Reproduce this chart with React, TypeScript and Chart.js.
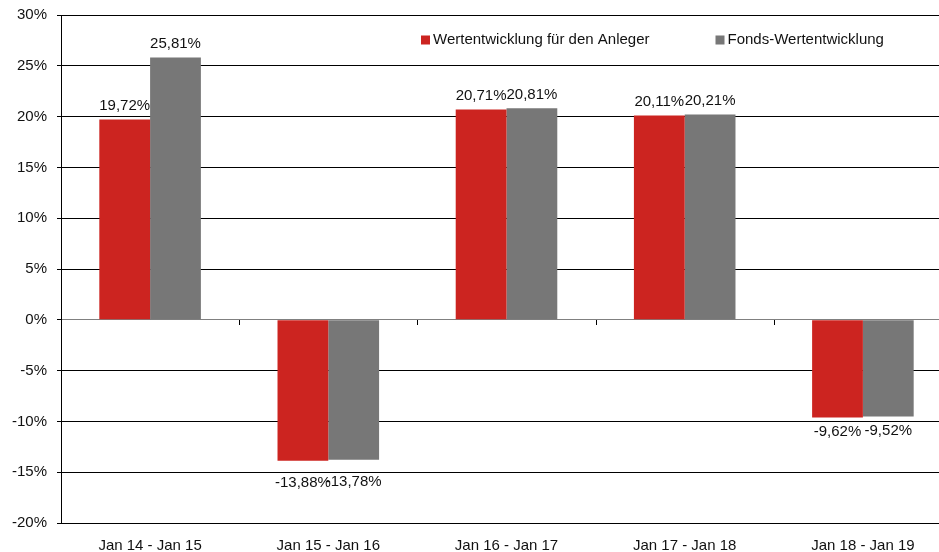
import React, { useEffect, useRef } from "react";
import { Chart, registerables } from "chart.js";

Chart.register(...registerables);

const categories = ["Jan 14 - Jan 15", "Jan 15 - Jan 16", "Jan 16 - Jan 17", "Jan 17 - Jan 18", "Jan 18 - Jan 19"];
const anlegerValues = [19.72, -13.88, 20.71, 20.11, -9.62];
const fondsValues = [25.81, -13.78, 20.81, 20.21, -9.52];
const seriesLabels = ["Wertentwicklung für den Anleger", "Fonds-Wertentwicklung"];
const seriesColors = ["#CC2420", "#777777"];
const yMin = -20;
const yMax = 30;
const yStep = 5;
// extra vertical nudge (px) for negative value labels, per category
const negLabelExtra = [0, 8, 0, 0, 0];

const FONT = "'Liberation Sans', Arial, sans-serif";

const fmt = (v: number) => v.toFixed(2).replace(".", ",") + "%";

const valueLabelPlugin = {
  id: "valueLabels",
  afterDatasetsDraw(chart: any) {
    const ctx = chart.ctx;
    ctx.save();
    ctx.font = `15px ${FONT}`;
    ctx.fillStyle = "#111";
    ctx.textAlign = "center";
    ctx.textBaseline = "middle";
    chart.data.datasets.forEach((ds: any, di: number) => {
      const meta = chart.getDatasetMeta(di);
      meta.data.forEach((bar: any, i: number) => {
        const v = ds.data[i];
        const y = v >= 0 ? bar.y - 14 : bar.y + 14 + negLabelExtra[i];
        ctx.fillText(fmt(v), bar.x, y);
      });
    });
    // category boundary tick marks on the zero line
    const xs = chart.scales.x;
    const ys = chart.scales.y;
    const y0 = Math.round(ys.getPixelForValue(0));
    const n = chart.data.labels.length;
    const w = (xs.right - xs.left) / n;
    ctx.strokeStyle = "#000";
    ctx.lineWidth = 1;
    ctx.beginPath();
    for (let i = 1; i <= n; i++) {
      const x = Math.round(xs.left + i * w) + 0.5;
      ctx.moveTo(x, y0);
      ctx.lineTo(x, y0 + 5);
    }
    ctx.stroke();
    ctx.restore();
  },
};

const legendPlugin = {
  id: "innerLegend",
  afterDraw(chart: any) {
    const ctx = chart.ctx;
    const area = chart.chartArea;
    ctx.save();
    ctx.font = `15px ${FONT}`;
    ctx.textBaseline = "middle";
    ctx.textAlign = "left";
    let x = area.left + 360;
    const y = area.top + 25;
    chart.data.datasets.forEach((ds: any) => {
      ctx.fillStyle = ds.backgroundColor;
      ctx.fillRect(x, y - 4.5, 9, 9);
      ctx.fillStyle = "#111";
      ctx.fillText(ds.label, x + 12, y);
      x += 12 + ctx.measureText(ds.label).width + 66;
    });
    ctx.restore();
  },
};

export default function App() {
  const ref = useRef<HTMLCanvasElement>(null);
  useEffect(() => {
    if (!ref.current) return;
    const chart = new Chart(ref.current, {
      type: "bar",
      data: {
        labels: categories,
        datasets: [
          { label: seriesLabels[0], data: anlegerValues, backgroundColor: seriesColors[0], borderWidth: 0 },
          { label: seriesLabels[1], data: fondsValues, backgroundColor: seriesColors[1], borderWidth: 0 },
        ],
      },
      options: {
        responsive: false,
        animation: false,
        devicePixelRatio: 1,
        layout: { padding: { top: 15, right: 8, left: 0, bottom: 0 } },
        datasets: { bar: { categoryPercentage: 0.57, barPercentage: 1 } },
        plugins: { legend: { display: false }, tooltip: { enabled: false } },
        scales: {
          x: {
            grid: { display: false },
            border: { display: false },
            ticks: { color: "#111", font: { family: FONT, size: 15 }, padding: 6, maxRotation: 0 },
            afterFit: (s: any) => {
              s.height = 29;
              s.paddingLeft = 0;
              s.paddingRight = 0;
            },
          },
          y: {
            min: yMin,
            max: yMax,
            grid: {
              color: (c: any) => (c.tick && c.tick.value === 0 ? "#808080" : "#000"),
              tickColor: "#000",
              tickLength: 4,
              lineWidth: 1,
            },
            border: { display: true, color: "#000", width: 1 },
            ticks: {
              stepSize: yStep,
              color: "#111",
              font: { family: FONT, size: 15 },
              padding: 10,
              callback: (v: any) => v + "%",
            },
            afterFit: (s: any) => {
              s.width = 61;
              s.paddingTop = 0;
              s.paddingBottom = 0;
            },
          },
        },
      },
      plugins: [valueLabelPlugin, legendPlugin],
    });
    return () => chart.destroy();
  }, []);
  return (
    <div style={{ position: "fixed", left: 0, top: 0, width: 939, height: 552, overflow: "hidden", background: "#fff" }}>
      <canvas ref={ref} width={960} height={552} style={{ display: "block" }} />
    </div>
  );
}
